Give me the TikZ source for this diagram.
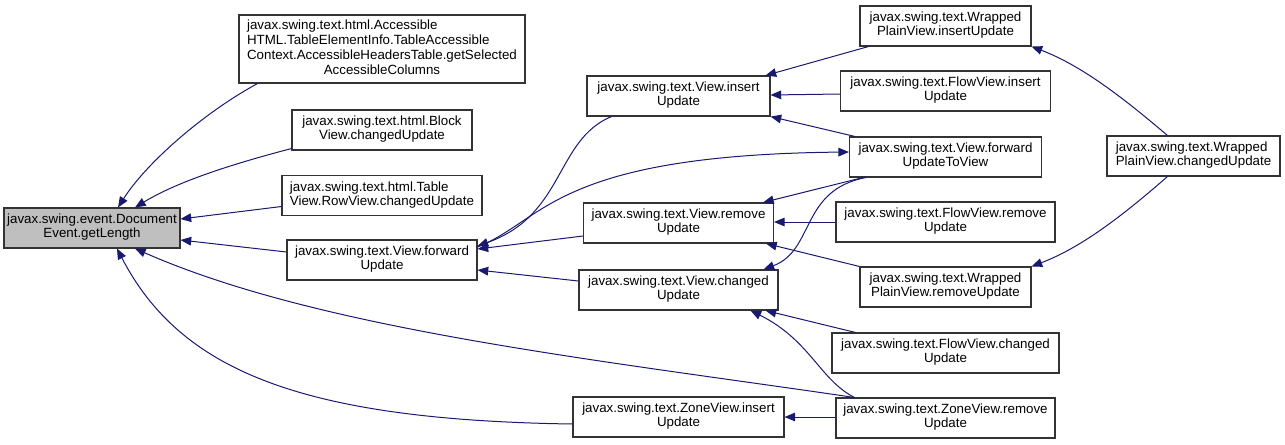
\documentclass[tikz,border=0pt]{standalone}
\usepackage{fontspec}
\setmainfont{Liberation Sans}
\usetikzlibrary{arrows.meta,calc}
\newcommand\lc[1]{\multicolumn{1}{@{}c@{}}{#1}}
\newcommand\lbl[1]{\begin{tabular}{@{}l@{}}#1\end{tabular}}
\definecolor{edgeblue}{HTML}{191970}
\definecolor{nodegray}{HTML}{BFBFBF}
\begin{document}
\begin{tikzpicture}[x=0.75pt,y=-0.75pt,
  box/.style={draw=black!80, line width=0.8pt, fill=white, inner sep=0pt,
    minimum height=30pt, font=\fontsize{10}{10.5}\selectfont},
  bw/.style={minimum width=#1*0.75pt},
  bh/.style={minimum height=#1*0.75pt},
  edge/.style={draw=edgeblue, line width=0.75pt, -{Triangle[length=8pt,width=6.5pt]}},
]
\useasboundingbox (0,0) rectangle (1285,444);
% column 1
\node[box,fill=nodegray,bw=176] (getLen) at (92,228) {\lbl{javax.swing.event.Document\\\lc{Event.getLength}}};
% column 2
\node[box,bw=286,bh=68,font=\fontsize{10}{11.2}\selectfont] (acc) at (382,49) {\lbl{javax.swing.text.html.Accessible\\HTML.TableElementInfo.TableAccessible\\Context.AccessibleHeadersTable.getSelected\\\lc{AccessibleColumns}}};
\node[box,bw=180] (block) at (382,130) {\lbl{javax.swing.text.html.Block\\\lc{View.changedUpdate}}};
\node[box,bw=200] (table) at (382,195.5) {\lbl{javax.swing.text.html.Table\\\lc{View.RowView.changedUpdate}}};
\node[box,bw=190] (fwd) at (382,260) {\lbl{javax.swing.text.View.forward\\\lc{Update}}};
% column 3
\node[box,bw=183] (insert) at (678.5,96) {\lbl{javax.swing.text.View.insert\\\lc{Update}}};
\node[box,bw=190] (remove) at (678.5,223) {\lbl{javax.swing.text.View.remove\\\lc{Update}}};
\node[box,bw=199] (changed) at (678.5,290) {\lbl{javax.swing.text.View.changed\\\lc{Update}}};
\node[box,bw=211] (zinsert) at (678.5,417) {\lbl{javax.swing.text.ZoneView.insert\\\lc{Update}}};
% column 4
\node[box,bw=171] (wpins) at (945.5,26) {\lbl{javax.swing.text.Wrapped\\\lc{PlainView.insertUpdate}}};
\node[box,bw=210] (fins) at (945.5,91) {\lbl{javax.swing.text.FlowView.insert\\\lc{Update}}};
\node[box,bw=192] (fwdtv) at (945.5,157) {\lbl{javax.swing.text.View.forward\\\lc{UpdateToView}}};
\node[box,bw=219] (frem) at (945.5,222) {\lbl{javax.swing.text.FlowView.remove\\\lc{Update}}};
\node[box,bw=171] (wprem) at (945.5,287) {\lbl{javax.swing.text.Wrapped\\\lc{PlainView.removeUpdate}}};
\node[box,bw=227] (fchg) at (945.5,353) {\lbl{javax.swing.text.FlowView.changed\\\lc{Update}}};
\node[box,bw=219] (zrem) at (945.5,418) {\lbl{javax.swing.text.ZoneView.remove\\\lc{Update}}};
% column 5
\node[box,bw=173] (wpchg) at (1193.5,156) {\lbl{javax.swing.text.Wrapped\\\lc{PlainView.changedUpdate}}};
% edges into getLength
\draw[edge] ($(acc.south west)+(19,0)$) .. controls (200,115) and (145,165) .. ($(getLen.north)+(26,0)$);
\draw[edge] ($(block.south west)+(0,-2)$) .. controls (240,162) and (180,180) .. ($(getLen.north)+(43,0)$);
\draw[edge] ($(table.west)+(0,11)$) -- ($(getLen.east)+(0,-9)$);
\draw[edge] ($(fwd.west)+(0,-8)$) -- ($(getLen.east)+(0,12)$);
\draw[edge] ($(zrem.north west)+(19,0)$) .. controls (600,360) and (320,330) .. ($(getLen.south)+(43,0)$);
\draw[edge] ($(zinsert.west)+(0,7)$) .. controls (300,420) and (180,370) .. ($(getLen.south)+(25,0)$);
% edges into forwardUpdate
\draw[edge] ($(insert.south west)+(25,0)$) .. controls (555,140) and (565,215) .. ($(fwd.east)+(0,-14)$);
\draw[edge] ($(remove.west)+(0,13)$) -- ($(fwd.east)+(0,-11)$);
\draw[edge] ($(changed.west)+(0,-9)$) -- ($(fwd.east)+(0,10)$);
\draw[edge] ($(fwd.east)+(0,-13)$) .. controls (545,220) and (555,155) .. ($(fwdtv.west)+(0,-5)$);
% edges into insertUpdate
\draw[edge] ($(wpins.south west)+(9,0)$) -- ($(insert.north east)+(-5,0)$);
\draw[edge] ($(fins.west)+(0,3)$) -- ($(insert.east)+(0,-1)$);
\draw[edge] ($(fwdtv.north west)+(6,0)$) -- (insert.south east);
% edges into removeUpdate
\draw[edge] ($(fwdtv.south west)+(14,0)$) -- ($(remove.north east)+(-11,0)$);
\draw[edge] (frem.west) -- ($(remove.east)+(0,-1)$);
\draw[edge] (wprem.north west) -- ($(remove.south east)+(-8,0)$);
% edges into changedUpdate
\draw[edge] ($(fwdtv.south west)+(17,0)$) .. controls (800,190) and (815,250) .. ($(changed.north east)+(-15,0)$);
\draw[edge] ($(fchg.north west)+(24,0)$) -- ($(changed.south east)+(-13,0)$);
\draw[edge] ($(zrem.north west)+(19,0)$) .. controls (820,380) and (810,340) .. ($(changed.south east)+(-28,0)$);
% zone view
\draw[edge] ($(zrem.west)+(0,-1)$) -- (zinsert.east);
% wrapped plain view
\draw[edge] ($(wpchg.north west)+(61,0)$) .. controls (1120,95) and (1080,65) .. (wpins.south east);
\draw[edge] ($(wpchg.south west)+(61,0)$) .. controls (1120,218) and (1080,248) .. (wprem.north east);
\end{tikzpicture}
\end{document}
